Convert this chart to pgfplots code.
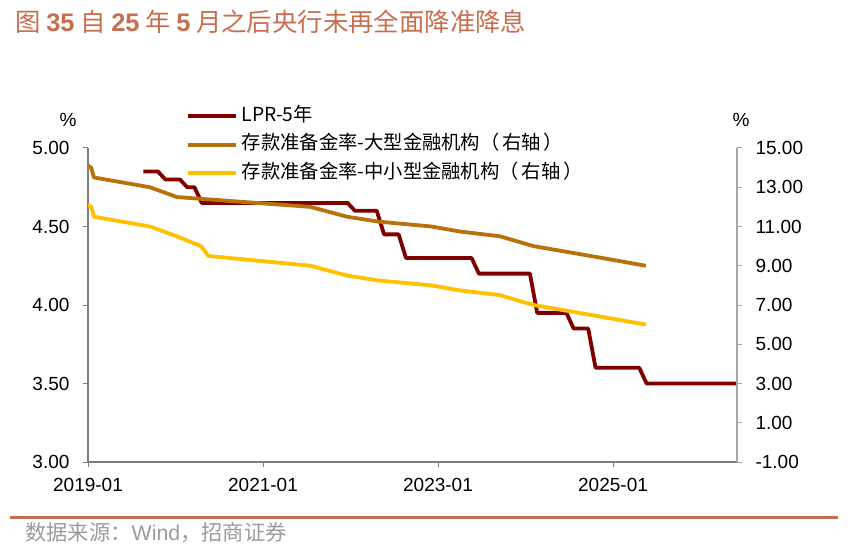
\documentclass[border=0pt]{standalone}
\usepackage{fontspec}
\setmainfont{Liberation Sans}
\newfontfamily\cjk{Noto Sans CJK SC}
\usepackage{pgfplots}
\pgfplotsset{compat=1.18}
\definecolor{lprred}{RGB}{128,0,0}
\definecolor{rrrbig}{RGB}{184,114,12}
\definecolor{rrrsmall}{RGB}{255,192,0}
\definecolor{titlec}{RGB}{200,110,80}
\definecolor{axgray}{RGB}{125,125,125}
\definecolor{axlight}{RGB}{166,166,166}
\definecolor{srcgray}{RGB}{155,155,155}

\pgfplotstableread{
x y
7.6 4.85
9.6 4.85
10.6 4.80
12.6 4.80
13.6 4.75
14.6 4.75
15.6 4.65
35.6 4.65
36.6 4.60
39.6 4.60
40.6 4.45
42.6 4.45
43.6 4.30
52.6 4.30
53.6 4.20
60.6 4.20
61.6 3.95
65.6 3.95
66.6 3.85
68.6 3.85
69.6 3.60
75.6 3.60
76.6 3.50
89 3.50
}\lprdata

\pgfplotstableread{
x y
0.0 14.1
0.45 14.0
0.8 13.5
8.5 13.0
12.2 12.5
30.5 12.0
35.5 11.5
39.8 11.25
47.1 11.0
50.9 10.75
56.5 10.5
61.1 10.0
68.9 9.5
76.5 9.0
}\rrrbig

\pgfplotstableread{
x y
0.0 12.1
0.45 12.0
0.8 11.5
8.5 11.0
12.2 10.5
15.5 10.0
16.5 9.5
30.5 9.0
35.5 8.5
39.8 8.25
47.1 8.0
50.9 7.75
56.5 7.5
61.1 7.0
68.9 6.5
76.5 6.0
}\rrrsmall

\pgfplotsset{
  common/.style={
    at={(88pt,93pt)}, anchor=south west, scale only axis,
    width=649pt, height=314pt,
    xmin=0, xmax=89,
    tick align=outside, major tick length=5pt,
    tick label style={font=\fontsize{19}{22}\selectfont},
    /pgf/number format/fixed, /pgf/number format/fixed zerofill,
    /pgf/number format/precision=2, /pgf/number format/assume math mode=true,
  }
}

\begin{document}
\begin{tikzpicture}
\path[use as bounding box] (0pt,0pt) rectangle (856pt,555pt);

\begin{axis}[common,
  ymin=3, ymax=5, ytick={3,3.5,4,4.5,5},
  axis x line*=bottom, axis y line*=left,
  axis line style={-, draw=axgray, line width=1.3pt},
  tick style={draw=axgray, line width=1pt},
  xtick={0,24,48,72}, xticklabels={2019-01,2021-01,2023-01,2025-01},
  xticklabel style={yshift=-8pt},
  yticklabel style={xshift=-10pt},
  legend cell align=left,
  legend image code/.code={\draw[#1] (0pt,0pt) -- (48pt,0pt);},
  legend style={draw=none, fill=none, at={(0.151,1.1306)}, anchor=north west,
    inner sep=0pt, row sep=10.5pt, column sep=4pt,
    font=\cjk\fontsize{19.3}{22}\selectfont,
    nodes={inner sep=0pt, text height=14pt, text depth=4pt}},
]
\addplot[lprred, line width=3.8pt, line join=round] table[x=x,y=y] {\lprdata};
\addlegendentry{LPR-5年}
\addlegendimage{rrrbig, line width=3.8pt}
\addlegendentry{存款准备金率-大型金融机构（\hspace{0.15em}右轴\hspace{0.15em}）}
\addlegendimage{rrrsmall, line width=3.8pt}
\addlegendentry{存款准备金率-中小型金融机构（\hspace{0.15em}右轴\hspace{0.15em}）}
\end{axis}

\begin{axis}[common,
  ymin=-1, ymax=15, ytick={-1,1,...,15},
  axis x line=none, axis y line*=right,
  axis line style={-, draw=axlight, line width=1.3pt},
  tick style={draw=axlight, line width=1pt},
  yticklabel style={xshift=10pt},
]
\addplot[rrrbig, line width=3.8pt, line join=round] table[x=x,y=y] {\rrrbig};
\addplot[rrrsmall, line width=3.8pt, line join=round] table[x=x,y=y] {\rrrsmall};
\end{axis}

\node[font=\fontsize{19}{22}\selectfont] at (68pt,435pt) {\%};
\node[font=\fontsize{19}{22}\selectfont] at (741pt,435pt) {\%};

\node[anchor=west, text=titlec, inner sep=0pt] at (15pt,533pt)
  {\cjk\fontsize{25.4}{30}\selectfont 图 {\rmfamily\bfseries 35} 自 {\rmfamily\bfseries 25} 年 {\rmfamily\bfseries 5} 月之后央行未再全面降准降息};

\draw[titlec, line width=3pt] (10pt,37.5pt) -- (838pt,37.5pt);

\node[anchor=west, text=srcgray, inner sep=0pt] at (25pt,22pt)
  {\cjk\fontsize{21.3}{25}\selectfont 数据来源：{\rmfamily Wind}，招商证券};
\end{tikzpicture}
\end{document}
